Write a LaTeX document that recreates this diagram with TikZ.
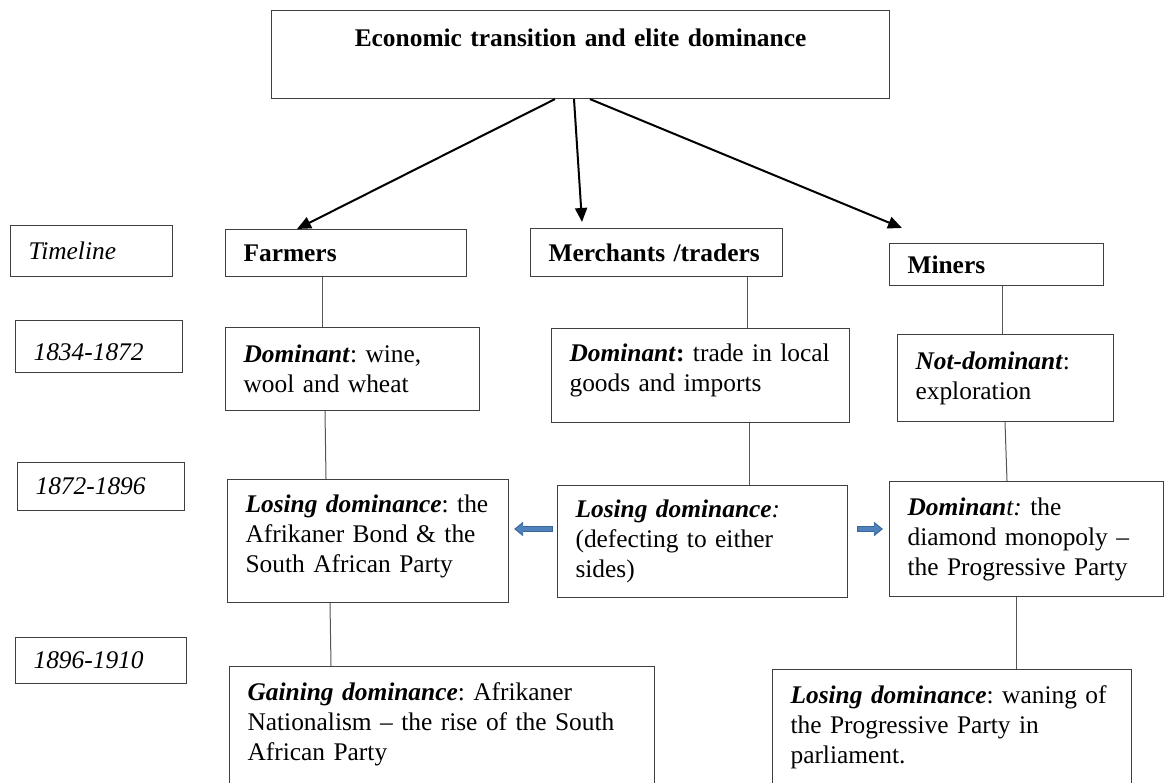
\documentclass[tikz,border=0pt]{standalone}
\usepackage{fontspec}
\setmainfont{Liberation Serif}
\usepackage{tikz}
\usetikzlibrary{positioning}
\usetikzlibrary{arrows.meta}

\definecolor{boxgray}{HTML}{3F3F3F}
\definecolor{linegray}{HTML}{555555}
\definecolor{arrowfill}{HTML}{4F81BD}
\definecolor{arrowline}{HTML}{3A6796}

\tikzset{
    cell/.style={draw=boxgray, line width=1.1pt, anchor=north west, inner xsep=18pt, inner ysep=0pt, align=left, font=\fontsize{25.4}{30}\selectfont\frenchspacing},
    era/.style={cell, font=\fontsize{25.4}{30}\selectfont\itshape},
    link/.style={draw=linegray, line width=1pt},
    down/.style={line width=2pt, -{Triangle[length=14pt,width=12pt]}},
    sideout/.style={arrowline, line width=6.5pt, -{Triangle[length=9pt,width=14pt]}},
    sidein/.style={arrowfill, line width=4.5pt, -{Triangle[length=7pt,width=10.5pt]}}
}

\begin{document}
\begin{tikzpicture}[x=1pt, y=-1pt]
                \useasboundingbox (0,0) rectangle (1164,783);

                % Nodes
                \node[cell, align=center, text width=582pt, text height=36pt, text depth=52pt] (title) at (271,10) {\textbf{Economic transition and elite dominance}};

                \node[era, text width=126pt, minimum height=51pt] (tl0) at (10,225) {Timeline};
                \node[era, text width=131pt, text height=40pt, text depth=12pt] (tl1) at (15,320) {1834-1872};
                \node[era, text width=131pt, minimum height=48pt] (tl2) at (17,462) {1872-1896};
                \node[era, text width=135pt, minimum height=46pt] (tl3) at (15,637) {1896-1910};

                \node[cell, text width=205pt, minimum height=47pt] (fhead) at (225,229) {\textbf{Farmers}};
                \node[cell, text width=218pt, minimum height=83pt] (fdom) at (225,327) {\textbf{\textit{Dominant}}: wine,\\ wool and wheat};
                \node[cell, text width=245pt, text height=33pt, text depth=90pt] (flose) at (227,479) {\mbox{\textbf{\textit{Losing dominance}}: the}\\ Afrikaner Bond \& the\\ South African Party};
                \node[cell, text width=389pt, text height=34pt, text depth=150pt] (fgain) at (229,666) {\textbf{\textit{Gaining dominance}}: Afrikaner\\ \mbox{Nationalism -- the rise of the South}\\ African Party};

                \node[cell, text width=216pt, minimum height=48pt] (mhead) at (530,228) {\mbox{\textbf{Merchants /traders}}};
                \node[cell, text width=262pt, text height=33pt, text depth=61pt] (mdom) at (551,328) {\mbox{\textbf{\textit{Dominant}:} trade in local}\\ goods and imports};
                \node[cell, text width=254pt, minimum height=112pt] (mlose) at (557,485) {\textbf{\textit{Losing dominance}}\textit{:}\\ (defecting to either\\ sides)};

                \node[cell, text width=178pt, minimum height=42pt] (nhead) at (889,243) {\textbf{Miners}};
                \node[cell, text width=180pt, minimum height=87pt] (ndom) at (897,334) {\textbf{\textit{Not-dominant}}:\\ exploration};
                \node[cell, text width=238pt, minimum height=115pt] (nwin) at (889,481) {\textbf{\textit{Dominan}}\textit{t:} the\\ diamond monopoly --\\ \mbox{the Progressive Party}};
                \node[cell, text width=323pt, text height=34pt, text depth=150pt] (nlose) at (772,669) {\mbox{\textbf{\textit{Losing dominance}}: waning of}\\ the Progressive Party in\\ parliament.};

                % Arrows
                \coordinate (mtip) at (582,222);
                \coordinate (ntip) at (902,228);
                \draw[down] (title.south -| 555,0) -- (fhead.north -| 297,0);
                \draw[down] (title.south -| 574,0) -- (mtip);
                \draw[down] (title.south -| 590,0) -- (ntip);

                % Lines down each column
                \draw[link] (fhead.south -| 322,0) -- (fdom.north -| 322,0);
                \draw[link] (fdom.south -| 325,0) -- (flose.north -| 326,0);
                \draw[link] (flose.south -| 330,0) -- (fgain.north -| 331,0);
                \draw[link] (mhead.south -| 747,0) -- (mdom.north -| 747,0);
                \draw[link] (mdom.south -| 749,0) -- (mlose.north -| 749,0);
                \draw[link] (nhead.south -| 1002,0) -- (ndom.north -| 1002,0);
                \draw[link] (ndom.south -| 1005,0) -- (nwin.north -| 1007,0);
                \draw[link] (nwin.south -| 1016,0) -- (nlose.north -| 1016,0);

                % Blue side arrows
                \draw[sideout, shorten <=4pt, shorten >=5pt] (mlose.west |- 0,529) -- (flose.east |- 0,529);
                \draw[sidein, shorten <=5pt, shorten >=6.7pt] (mlose.west |- 0,529) -- (flose.east |- 0,529);
                \draw[sideout, shorten <=9pt, shorten >=6pt] (mlose.east |- 0,529) -- (nwin.west |- 0,529);
                \draw[sidein, shorten <=10pt, shorten >=7.7pt] (mlose.east |- 0,529) -- (nwin.west |- 0,529);

            \end{tikzpicture}
\end{document}
